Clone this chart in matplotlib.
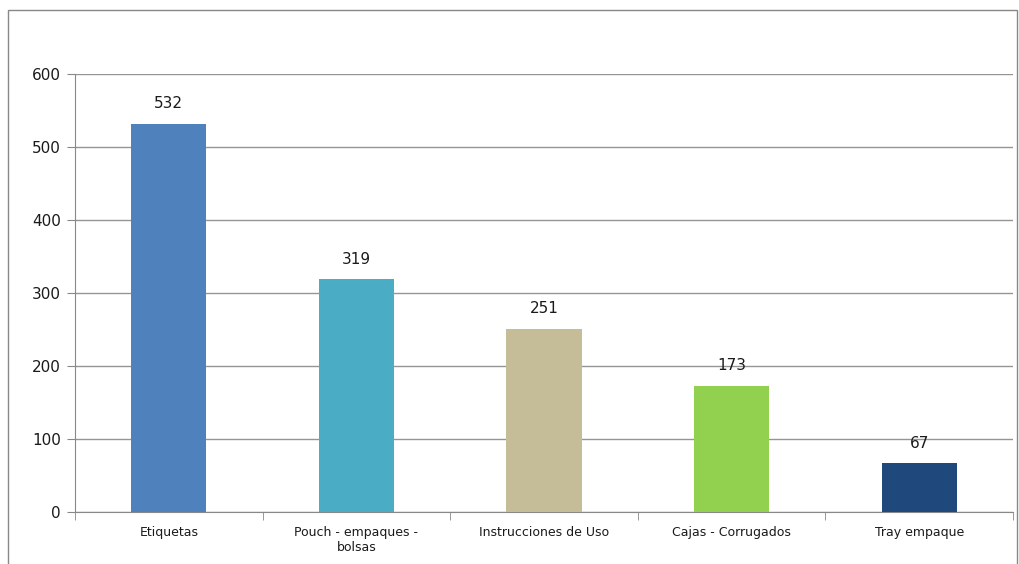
import matplotlib.pyplot as plt
from matplotlib.patches import Rectangle

categories = ["Etiquetas", "Pouch - empaques -\nbolsas", "Instrucciones de Uso",
              "Cajas - Corrugados", "Tray empaque"]
values = [532, 319, 251, 173, 67]
colors = ["#4F81BD", "#4BACC6", "#C4BD97", "#92D050", "#1F497D"]

fig = plt.figure(figsize=(10.19, 5.64), dpi=100)
ax = fig.add_axes([0.0736, 0.0922, 0.9205, 0.7766])

x = range(len(values))
bars = ax.bar(x, values, width=0.4, color=colors, zorder=3)
for xi, v in zip(x, values):
    ax.annotate(str(v), (xi, v), xytext=(0, 9), textcoords="offset points",
                ha="center", va="bottom", fontsize=11, color="#1a1a1a")

ax.set_xlim(-0.5, len(values) - 0.5)
ax.set_ylim(0, 600)
ax.set_yticks(range(0, 601, 100))
ax.tick_params(axis="y", labelsize=11, length=6, color="#888888", labelcolor="#1a1a1a", pad=4)

ax.set_xticks(x)
ax.set_xticklabels(categories, fontsize=9, color="#1a1a1a")
ax.set_xticks([i - 0.5 for i in range(len(values) + 1)], minor=True)
ax.tick_params(axis="x", which="major", length=0, pad=10)
ax.tick_params(axis="x", which="minor", length=6, color="#888888")

ax.yaxis.grid(True, color="#959595", linewidth=1, zorder=0)
ax.set_axisbelow(True)
for s in ["top", "right"]:
    ax.spines[s].set_visible(False)
for s in ["left", "bottom"]:
    ax.spines[s].set_color("#888888")

# outer chart border
fig.patches.append(Rectangle((8 / 1019, -0.05), 1009 / 1019, 1.05 - 10 / 564,
                             transform=fig.transFigure, fill=False,
                             edgecolor="#888888", linewidth=1))

fig.savefig("out.png", dpi=100)
